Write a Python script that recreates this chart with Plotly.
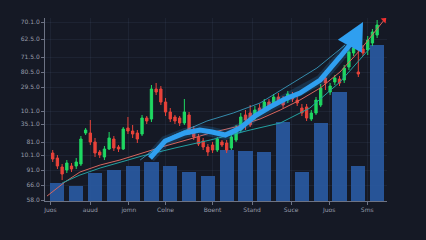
import plotly.graph_objects as go

# ---- candle data (session index 0..69) ----
sessions = list(range(70))
opens = [48,43,34,31,35,35,37,68,68,59,49,44,52,62,54,52,73,70,68,67,
         83,82,112,112,99,89,84,83,78,86,72,64,60,54,56,51,59,58,53,61,
         71,86,88,83,93,91,99,97,104,102,101,106,101,93,94,82,88,96,123,109,
         119,122,121,134,148,129,152,151,158,166]
highs = [51,46,37,41,38,43,65,73,81,63,51,55,69,65,56,74,84,76,71,86,
         85,116,118,115,103,93,86,85,102,89,75,67,63,57,59,64,61,61,67,76,
         88,91,96,95,97,102,102,107,108,105,110,109,105,97,97,91,104,117,131,118,
         126,125,136,154,156,151,156,165,172,181]
lows = [39,32,21,28,29,32,35,66,56,44,43,41,51,50,49,51,67,63,58,65,
        77,79,106,96,85,79,77,75,76,66,61,55,51,45,48,49,54,48,51,59,
        69,71,74,81,86,89,92,95,97,93,98,99,95,85,80,80,86,94,111,106,
        116,115,118,131,145,124,145,146,155,163]
closes = [42,35,27,38,32,39,62,71,59,48,46,52,63,53,52,72,70,67,62,83,
          80,112,109,99,89,82,80,78,89,68,64,57,54,49,51,62,56,51,64,73,
          84,81,76,91,89,99,95,104,100,96,107,102,98,88,83,88,101,113,118,115,
          123,118,133,149,153,127,148,161,169,176]

# ---- volume-like bars ----
bar_pos = [1,5,9,13,17,21,25,29,33,37,41,45,49,53,57,61,65,69]
bar_vals = [18,15,28,31,35,39,35,29,25,51,50,49,79,29,78,109,35,156]

# ---- moving-average style lines ----
ma_red_x = [-1.2,2.6,5.8,10.1,14.3,19.0,23.9,29.2,33.5,38.8,44.1,48.4,52.6,56.9,61.1,65.4,70.5]
ma_red_y = [5,19,29,36,41,48,55,62,68,74,82,91,101,113,129,151,181]
ma_teal_x = [2.0,5.8,10.1,14.3,19.0,26.0,33.5,42.0,48.4,54.7,61.1,67.5]
ma_teal_y = [18,26,33,39,45,53,61,71,78,93,119,153]
ma_light_x = [18.6,25.4,32.8,38.4,44.1,49.2,56.2,62.2]
ma_light_y = [41,65,80,88,98,113,133,156]
trend_x = [20.7,23.9,28.1,31.3,33.9,36.7,39.9,43.0,46.2,49.4,52.6,56.9,61.1,63.7,66.0]
trend_y = [43,60,68,71,69,66,73,85,94,102,108,121,144,159,179]

# ---- tick labels ----
x_tickvals = [-0.5,8,16.2,24,34,42.4,50.7,58.8,66.9]
x_ticktext = ['Juos','auud','jomn','Colne','Boent','Stand','Suce','Juos','Sms']
y_tickvals = [179,162,144,129,114,90,77,59,46,31,16,1]
y_ticktext = ['70.1.0','62.5.0','71.5.0','80.5.0','29.5.0','10.1.0','35.1.0','81.0','10.1.0','91.0','66.0','58.0']

fig = go.Figure()

fig.add_trace(go.Bar(x=bar_pos, y=bar_vals, width=3.0,
                     marker=dict(color='#29589e', line=dict(width=0)), opacity=0.95))

fig.add_trace(go.Scatter(x=ma_red_x, y=ma_red_y, mode='lines',
                         line=dict(color='#d8665e', width=1)))
fig.add_trace(go.Scatter(x=ma_teal_x, y=ma_teal_y, mode='lines',
                         line=dict(color='#23a0a0', width=1)))
fig.add_trace(go.Scatter(x=ma_light_x, y=ma_light_y, mode='lines',
                         line=dict(color='#3fb0d8', width=1), opacity=0.75))

fig.add_trace(go.Candlestick(x=sessions, open=opens, high=highs, low=lows, close=closes,
                             increasing=dict(line=dict(color='#1fd862', width=1), fillcolor='#1fd862'),
                             decreasing=dict(line=dict(color='#e8433a', width=1), fillcolor='#e8433a'),
                             whiskerwidth=0))

# end marker of red line
fig.add_trace(go.Scatter(x=ma_red_x[-1:], y=ma_red_y[-1:], mode='markers',
                         marker=dict(symbol='triangle-up', size=6, color='#f03030', angle=45)))

# trend arrow (glow + body)
fig.add_trace(go.Scatter(x=trend_x[:-1], y=trend_y[:-1], mode='lines',
                         line=dict(color='rgba(47,159,240,0.18)', width=10)))
fig.add_trace(go.Scatter(x=trend_x[:-1], y=trend_y[:-1], mode='lines',
                         line=dict(color='#2f9ff0', width=5)))
fig.add_annotation(x=trend_x[-1], y=trend_y[-1], ax=trend_x[-2], ay=trend_y[-2],
                   xref='x', yref='y', axref='x', ayref='y', text='',
                   showarrow=True, arrowhead=2, arrowsize=1.1, arrowwidth=5,
                   arrowcolor='#2f9ff0')

axis_common = dict(showline=True, linecolor='#6d7384', linewidth=1, ticks='outside',
                   ticklen=3, tickcolor='#6d7384', tickfont=dict(size=6, color='#979dab',
                   family='DejaVu Sans'), showgrid=True, gridcolor='rgba(110,130,170,0.10)',
                   zeroline=False)

fig.update_layout(
    width=426, height=240, autosize=False,
    margin=dict(l=45, r=39, t=18, b=39),
    paper_bgcolor='#151925', plot_bgcolor='#151925',
    showlegend=False,
    xaxis=dict(range=[-1.64, 71.1], tickvals=x_tickvals, ticktext=x_ticktext,
               rangeslider=dict(visible=False), **axis_common),
    yaxis=dict(range=[0, 183], tickvals=y_tickvals, ticktext=y_ticktext, **axis_common),
    bargap=0,
)

fig.write_html("out.html")
